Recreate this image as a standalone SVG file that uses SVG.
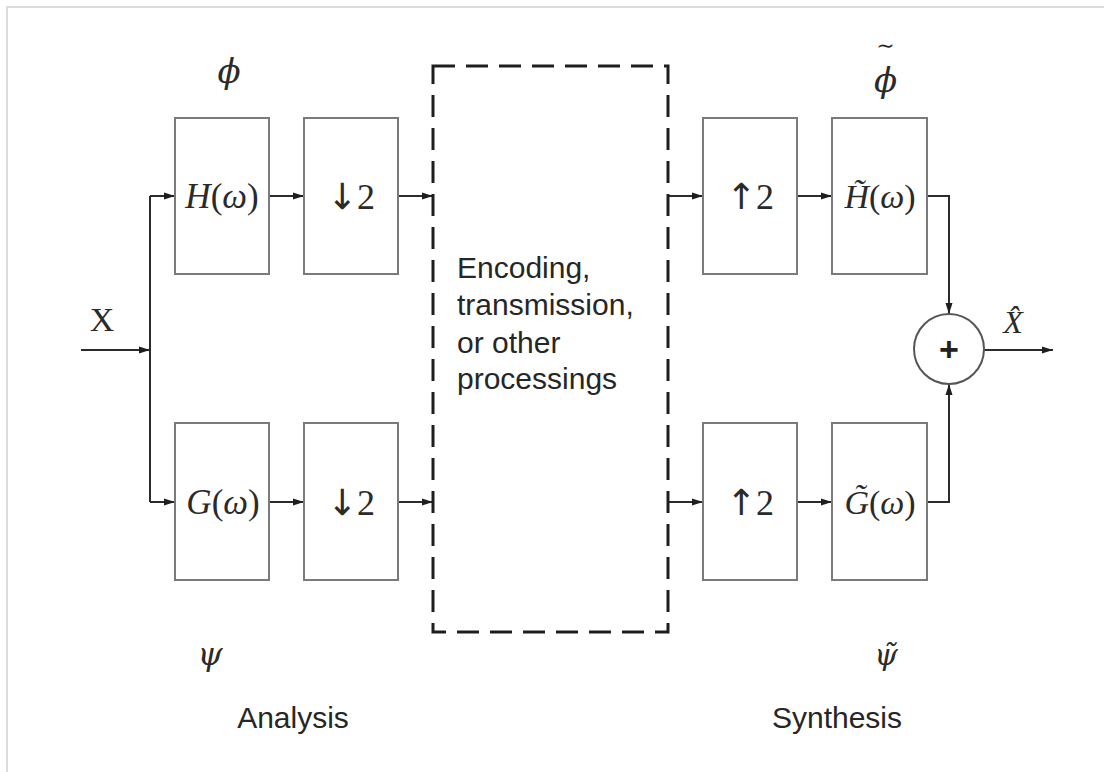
<svg xmlns="http://www.w3.org/2000/svg" width="1104" height="772" viewBox="0 0 1104 772">
  <style>
    .frame { stroke: #dcdcdc; stroke-width: 2; fill: none; }
    .box { fill: #ffffff; stroke: #7a7a7a; stroke-width: 2; }
    .dash { fill: none; stroke: #1e1e1e; stroke-width: 3; stroke-dasharray: 22 11; }
    .wire { fill: none; stroke: #2b2b2b; stroke-width: 2; }
    .arrow { marker-end: url(#head); }
    .math { font-family: "Liberation Serif", "DejaVu Serif", serif; fill: #2a2a2a; }
    .greek { font-family: "DejaVu Serif", serif; font-style: italic; fill: #2a2a2a; }
    .it { font-style: italic; }
    .arw { font-family: "DejaVu Sans", sans-serif; fill: #2a2a2a; }
    .sans { font-family: "Liberation Sans", Arial, sans-serif; fill: #262626; }
  </style>
  <defs>
    <marker id="head" markerUnits="userSpaceOnUse" markerWidth="12" markerHeight="8" refX="11" refY="4" orient="auto">
      <path d="M0,0.5 L11,4 L0,7.5 z" fill="#1e1e1e"/>
    </marker>
  </defs>

  <rect width="1104" height="772" fill="#ffffff"/>
  <!-- page frame (top and left edges only) -->
  <path class="frame" d="M7,772 V7 H1104"/>

  <!-- connectors -->
  <g id="connectors">
    <path class="wire arrow" d="M81,350 H150"/>
    <path class="wire" d="M150,196 V502"/>
    <path class="wire arrow" d="M150,196 H175"/>
    <path class="wire arrow" d="M150,502 H175"/>
    <path class="wire arrow" d="M269,196 H304"/>
    <path class="wire arrow" d="M269,502 H304"/>
    <path class="wire arrow" d="M398,196 H433"/>
    <path class="wire arrow" d="M398,502 H433"/>
    <path class="wire arrow" d="M668,196 H703"/>
    <path class="wire arrow" d="M668,502 H703"/>
    <path class="wire arrow" d="M797,196 H832"/>
    <path class="wire arrow" d="M797,502 H832"/>
    <path class="wire arrow" d="M927,196 H949 V314"/>
    <path class="wire arrow" d="M927,502 H949 V384"/>
    <path class="wire arrow" d="M984,350 H1053"/>
  </g>

  <!-- analysis filter bank -->
  <g id="node-h">
    <rect class="box" x="175" y="118" width="94" height="156"/>
    <text class="math" x="222" y="208" font-size="35" text-anchor="middle"><tspan class="it">H</tspan>(<tspan class="it">ω</tspan>)</text>
  </g>
  <g id="node-down-top">
    <rect class="box" x="304" y="118" width="94" height="156"/>
    <text x="351" y="209" font-size="36" text-anchor="middle"><tspan class="arw">↓</tspan><tspan class="math">2</tspan></text>
  </g>
  <g id="node-g">
    <rect class="box" x="175" y="423" width="94" height="157"/>
    <text class="math" x="223" y="514" font-size="35" text-anchor="middle"><tspan class="it">G</tspan>(<tspan class="it">ω</tspan>)</text>
  </g>
  <g id="node-down-bottom">
    <rect class="box" x="304" y="423" width="94" height="157"/>
    <text x="351" y="515" font-size="36" text-anchor="middle"><tspan class="arw">↓</tspan><tspan class="math">2</tspan></text>
  </g>

  <!-- channel block -->
  <g id="node-channel">
    <rect class="dash" x="433" y="66" width="235" height="566"/>
    <text class="sans" font-size="30">
      <tspan x="457" y="278">Encoding,</tspan>
      <tspan x="457" y="315">transmission,</tspan>
      <tspan x="457" y="353">or other</tspan>
      <tspan x="457" y="389">processings</tspan>
    </text>
  </g>

  <!-- synthesis filter bank -->
  <g id="node-up-top">
    <rect class="box" x="703" y="118" width="94" height="156"/>
    <text x="750" y="209" font-size="36" text-anchor="middle"><tspan class="arw">↑</tspan><tspan class="math">2</tspan></text>
  </g>
  <g id="node-htilde">
    <rect class="box" x="832" y="118" width="95" height="156"/>
    <text class="math" x="880" y="208" font-size="34" text-anchor="middle"><tspan class="it">H̃</tspan>(<tspan class="it">ω</tspan>)</text>
  </g>
  <g id="node-up-bottom">
    <rect class="box" x="703" y="423" width="94" height="157"/>
    <text x="750" y="515" font-size="36" text-anchor="middle"><tspan class="arw">↑</tspan><tspan class="math">2</tspan></text>
  </g>
  <g id="node-gtilde">
    <rect class="box" x="832" y="423" width="95" height="157"/>
    <text class="math" x="880" y="514" font-size="34" text-anchor="middle"><tspan class="it">G̃</tspan>(<tspan class="it">ω</tspan>)</text>
  </g>
  <g id="node-sum">
    <circle cx="949" cy="349" r="35" fill="#ffffff" stroke="#555555" stroke-width="2"/>
    <text x="949" y="361" font-family="Liberation Sans, Arial, sans-serif" font-size="34" font-weight="bold" fill="#222" text-anchor="middle">+</text>
  </g>

  <!-- signal and basis labels -->
  <g id="labels">
    <text class="math" x="102" y="331" font-size="34" text-anchor="middle">X</text>
    <text class="math it" x="1013" y="333" font-size="32" text-anchor="middle">X̂</text>
    <text class="greek" x="229" y="83" font-size="34" text-anchor="middle">ϕ</text>
    <!-- phi with a raised tilde kept in one text run -->
    <text class="greek" x="874" y="92" font-size="34">ϕ<tspan dx="-21" dy="-39" font-size="22" font-style="normal">∼</tspan></text>
    <text class="greek" x="210" y="665" font-size="32" text-anchor="middle">ψ</text>
    <text class="greek" x="886" y="665" font-size="30" text-anchor="middle">ψ̃</text>
    <text class="sans" x="293" y="728" font-size="30" text-anchor="middle">Analysis</text>
    <text class="sans" x="837" y="728" font-size="30" text-anchor="middle">Synthesis</text>
  </g>
</svg>
